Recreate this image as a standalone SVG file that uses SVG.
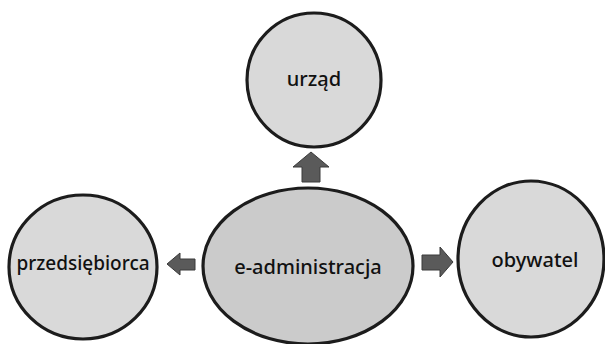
<svg xmlns="http://www.w3.org/2000/svg" width="605" height="344" viewBox="0 0 605 344">
<defs>
<style>
.node{fill:#d9d9d9;stroke:#1c1c1c;stroke-width:3.2}
.center{fill:#cbcbcb}
.lbl{font-family:"Noto Sans","Open Sans",sans-serif;font-size:20px;font-weight:500;fill:#111111;text-anchor:middle}
.arr{fill:#5a5a5a;stroke:#3a3a3a;stroke-width:1}
</style>
</defs>
<rect width="605" height="344" fill="#ffffff"/>
<g id="connectors">
<polygon class="arr" points="311,152 329,167 320,167 320,182 302,182 302,167 293,167"/>
<polygon class="arr" points="167,264 180,253 180,259 195,259 195,270 180,270 180,275"/>
<polygon class="arr" points="453,262 440,247 440,255 422,255 422,270 440,270 440,277"/>
</g>
<g id="urzad">
<circle class="node" cx="314" cy="80" r="67"/>
<text class="lbl" x="314" y="86">urząd</text>
</g>
<g id="przedsiebiorca">
<ellipse class="node" cx="83" cy="267" rx="74" ry="72"/>
<text class="lbl" x="83" y="270" style="font-size:19px">przedsiębiorca</text>
</g>
<g id="e-administracja">
<ellipse class="node center" cx="308" cy="266" rx="105" ry="78"/>
<text class="lbl" x="308" y="274">e-administracja</text>
</g>
<g id="obywatel">
<ellipse class="node" cx="531" cy="259" rx="73" ry="78"/>
<text class="lbl" x="535" y="267">obywatel</text>
</g>
</svg>
